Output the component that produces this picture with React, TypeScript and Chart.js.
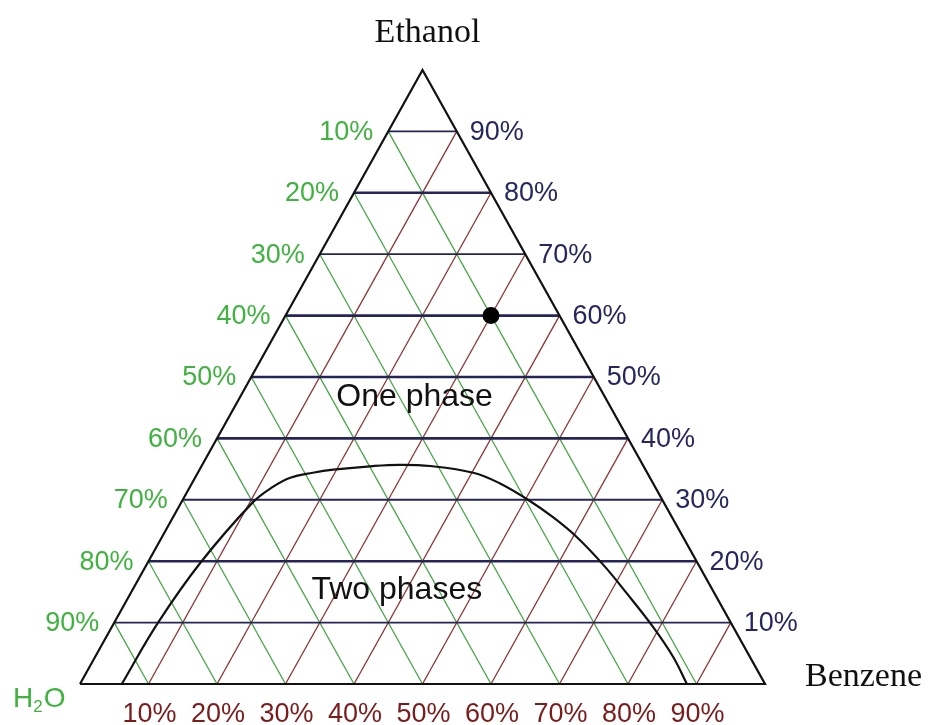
import React, { useEffect, useRef } from "react";
import { Chart, registerables } from "chart.js";

Chart.register(...registerables);

// ---- data (ternary compositions in %) ----
const TICKS = [10, 20, 30, 40, 50, 60, 70, 80, 90];
const WATER_LABELS = ["10%", "20%", "30%", "40%", "50%", "60%", "70%", "80%", "90%"]; // left side (H2O)
const ETHANOL_LABELS = ["10%", "20%", "30%", "40%", "50%", "60%", "70%", "80%", "90%"]; // right side
const BENZENE_LABELS = ["10%", "20%", "30%", "40%", "50%", "60%", "70%", "80%", "90%"]; // bottom

// binodal curve (benzene %, ethanol %)
const CURVE_BENZENE = [6.1, 6.4, 7.7, 10.4, 12.1, 13.9, 16.8, 19.5, 25.0, 28.8, 33.4, 40.2, 44.9, 50.4, 55.4, 60.6, 66.7, 72.4, 79.0, 84.4, 88.6];
const CURVE_ETHANOL = [0, 9.9, 19.7, 29.5, 32.1, 33.6, 34.4, 34.9, 35.5, 35.7, 35.5, 34.4, 32.7, 30.0, 27.2, 23.9, 19.4, 14.8, 9.3, 4.4, 0];

// marked composition
const POINT_BENZENE = [30];
const POINT_ETHANOL = [60];

// region annotations
const REGION_TEXT = ["One phase", "Two phases"];
const REGION_BENZENE = [25.5, 38.6];
const REGION_ETHANOL = [46.7, 15.3];

const VERTEX_TOP = "Ethanol";
const VERTEX_RIGHT = "Benzene";

// ---- styles ----
const NAVY_LINE = "#25255a";
const GREEN_LINE = "#47a447";
const RED_LINE = "#8c3434";
const NAVY_TEXT = "#27275e";
const GREEN_TEXT = "#3fb23f";
const RED_TEXT = "#7a1c1c";
const NAVY_WIDTHS = [1.6, 2.6, 2.0, 2.6, 2.6, 2.6, 1.8, 2.6, 1.6];

const W = 934;
const H = 725;
// pixel frame of the triangle
const BASE_L = 80;
const BASE_R = 765;
const BASE_Y = 684;
const APEX_Y = 70;

const toXY = (b: number, e: number) => ({ x: (b + e / 2) / 100, y: e / 100 });

function seg(points: { x: number; y: number }[], color: string, width: number) {
  return {
    data: points,
    showLine: true,
    borderColor: color,
    backgroundColor: color,
    borderWidth: width,
    pointRadius: 0,
    pointHoverRadius: 0,
    tension: 0,
    fill: false,
  };
}

export default function App() {
  const ref = useRef<HTMLCanvasElement | null>(null);

  useEffect(() => {
    if (!ref.current) return;
    const span = BASE_R - BASE_L;
    const xRange = W / span;
    const xMin = -BASE_L / span;
    const yUnit = BASE_Y - APEX_Y;
    const yRange = H / yUnit;
    const yMax = 1 + APEX_Y / yUnit;
    const yMin = yMax - yRange;

    const datasets: any[] = [];
    // top-most first (Chart.js draws first dataset last)
    datasets.push({
      data: POINT_BENZENE.map((b, i) => toXY(b, POINT_ETHANOL[i])),
      showLine: false,
      pointRadius: 8.5,
      pointBackgroundColor: "#000",
      pointBorderColor: "#000",
      pointBorderWidth: 0,
    });
    datasets.push({
      ...seg(CURVE_BENZENE.map((b, i) => toXY(b, CURVE_ETHANOL[i])), "#111", 2.2),
      tension: 0.4,
    });
    datasets.push(seg([toXY(0, 0), toXY(100, 0), toXY(0, 100), toXY(0, 0)], "#111", 2.2));
    TICKS.forEach((e, i) => {
      datasets.push(seg([toXY(0, e), toXY(100 - e, e)], NAVY_LINE, NAVY_WIDTHS[i]));
    });
    TICKS.forEach((b) => {
      datasets.push(seg([toXY(b, 0), toXY(b, 100 - b)], RED_LINE, 1.3));
    });
    TICKS.forEach((w) => {
      datasets.push(seg([toXY(0, 100 - w), toXY(100 - w, 0)], GREEN_LINE, 1.3));
    });

    const labelsPlugin = {
      id: "ternaryLabels",
      afterDraw(chart: any) {
        const ctx = chart.ctx;
        const sx = chart.scales.x;
        const sy = chart.scales.y;
        const px = (b: number, e: number) => {
          const p = toXY(b, e);
          return [sx.getPixelForValue(p.x), sy.getPixelForValue(p.y)];
        };
        ctx.save();
        const sans = "27px 'Liberation Sans', Arial, sans-serif";
        ctx.font = sans;
        ctx.textBaseline = "middle";
        // left (water) labels
        ctx.fillStyle = GREEN_TEXT;
        ctx.textAlign = "right";
        TICKS.forEach((w, i) => {
          const [x, y] = px(0, 100 - w);
          ctx.fillText(WATER_LABELS[i], x - 15, y + 1);
        });
        // right (ethanol) labels
        ctx.fillStyle = NAVY_TEXT;
        ctx.textAlign = "left";
        TICKS.forEach((e, i) => {
          const [x, y] = px(100 - e, e);
          ctx.fillText(ETHANOL_LABELS[i], x + 13, y + 1);
        });
        // bottom (benzene) labels
        ctx.fillStyle = RED_TEXT;
        ctx.textAlign = "center";
        TICKS.forEach((b, i) => {
          const [x, y] = px(b, 0);
          ctx.fillText(BENZENE_LABELS[i], x + 1, y + 31);
        });
        // region text
        ctx.fillStyle = "#111";
        ctx.font = "32px 'Liberation Sans', Arial, sans-serif";
        REGION_TEXT.forEach((t, i) => {
          const [x, y] = px(REGION_BENZENE[i], REGION_ETHANOL[i]);
          ctx.fillText(t, x, y);
        });
        // vertex titles
        ctx.font = "34px 'Liberation Serif', 'Times New Roman', serif";
        ctx.textBaseline = "alphabetic";
        ctx.textAlign = "center";
        const [ax, ay] = px(0, 100);
        ctx.fillText(VERTEX_TOP, ax + 5, ay - 28);
        const [rx, ry] = px(100, 0);
        ctx.textAlign = "left";
        ctx.fillText(VERTEX_RIGHT, rx + 40, ry + 2);
        // H2O
        const [lx, ly] = px(0, 0);
        ctx.fillStyle = GREEN_TEXT;
        ctx.textAlign = "left";
        ctx.font = "28px 'Liberation Sans', Arial, sans-serif";
        let cx = lx - 67;
        ctx.fillText("H", cx, ly + 23);
        cx += ctx.measureText("H").width;
        ctx.font = "17px 'Liberation Sans', Arial, sans-serif";
        ctx.fillText("2", cx, ly + 28);
        cx += ctx.measureText("2").width + 1;
        ctx.font = "28px 'Liberation Sans', Arial, sans-serif";
        ctx.fillText("O", cx, ly + 23);
        ctx.restore();
      },
    };

    const chart = new Chart(ref.current, {
      type: "scatter",
      data: { datasets },
      options: {
        responsive: false,
        animation: false,
        devicePixelRatio: 1,
        layout: { padding: 0, autoPadding: false },
        scales: {
          x: { type: "linear", min: xMin, max: xMin + xRange, display: false },
          y: { type: "linear", min: yMin, max: yMax, display: false },
        },
        plugins: {
          legend: { display: false },
          tooltip: { enabled: false },
        },
        events: [],
      },
      plugins: [labelsPlugin],
    } as any);
    return () => chart.destroy();
  }, []);

  return (
    <div style={{ position: "fixed", left: 0, top: 0, width: W, height: H, background: "#fff" }}>
      <canvas ref={ref} width={W} height={H} style={{ display: "block" }} />
    </div>
  );
}
